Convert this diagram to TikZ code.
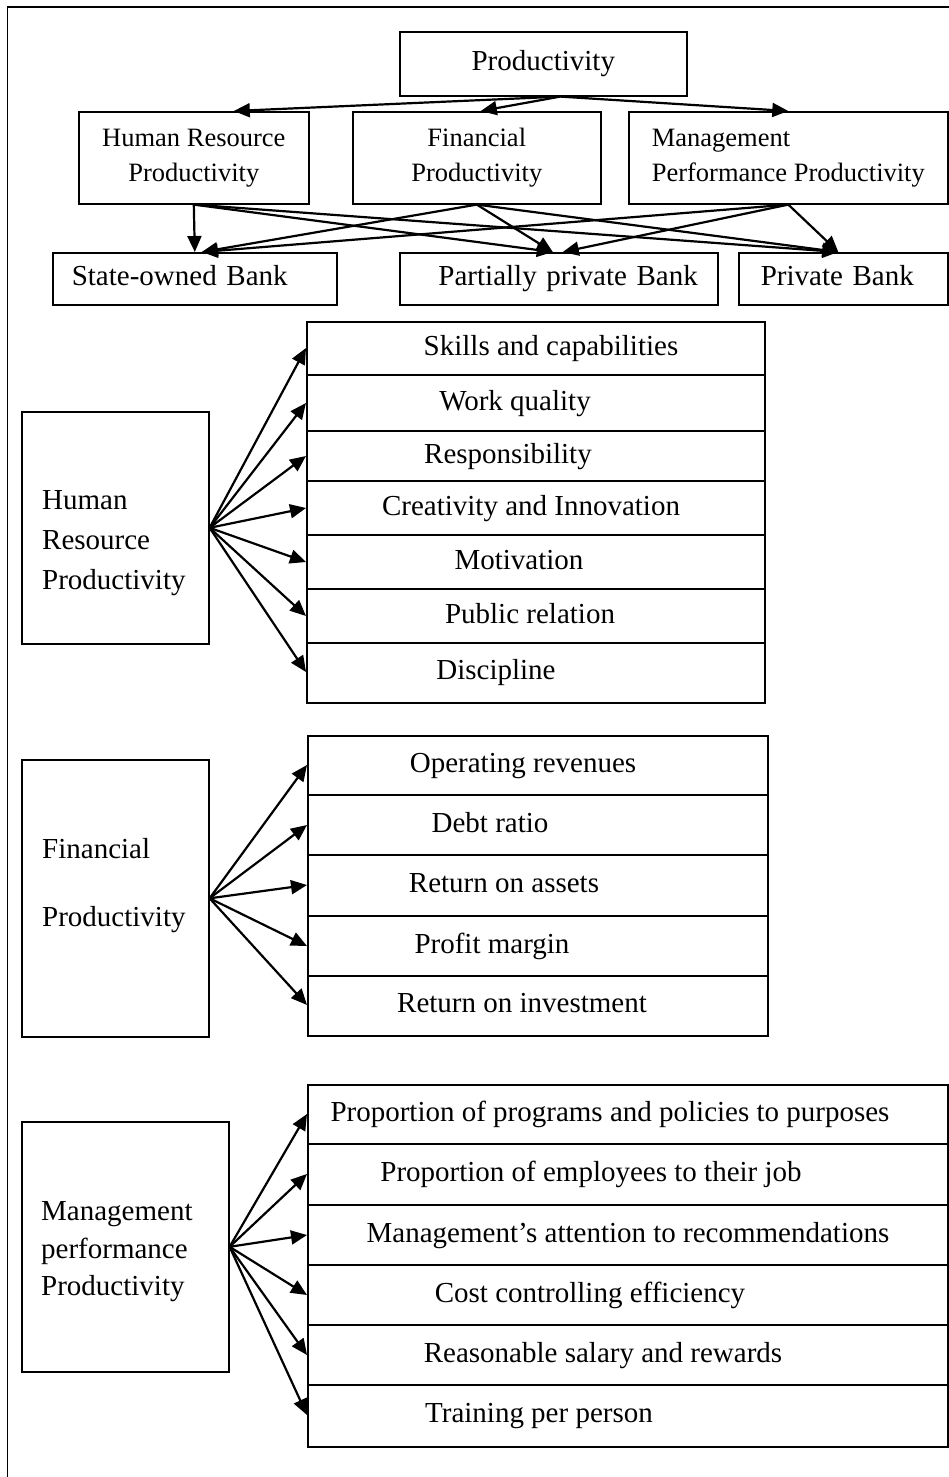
\documentclass[tikz,border=0pt]{standalone}
\usepackage{fontspec}
\setmainfont{Liberation Serif}
\usepackage{tikz}
\usetikzlibrary{arrows.meta,positioning}

\begin{document}
\begin{tikzpicture}[
  x=1pt, y=-1pt,
  box/.style={
    rectangle, draw=black, line width=1.6pt, anchor=north west,
    inner sep=0pt, font=\fontsize{29}{34}\selectfont
  },
  topbox/.style={box, align=center, font=\fontsize{26.5}{35}\selectfont},
  bankbox/.style={box, text height=20pt, text depth=6pt, minimum height=52pt},
  sidelabel/.style={anchor=west, inner sep=0pt, align=left},
  item/.style={inner sep=0pt, text height=20pt, text depth=6pt,
    font=\fontsize{29}{34}\selectfont},
  divider/.style={line width=1.6pt},
  arr/.style={draw=black, line width=2.2pt, -{Triangle[length=16pt,width=14pt]}}
]
  \useasboundingbox (0,0) rectangle (949,1477);
  % outer frame
  \draw[line width=1.5pt] (7.5,1490) -- (7.5,7) -- (960,7);

  % top level
  \node[box, minimum width=287pt, minimum height=64pt] (prod) at (399,31) {Productivity};
  \node[topbox, minimum width=230pt, minimum height=92pt] (hrp) at (78,111)
    {Human Resource\\Productivity};
  \node[topbox, minimum width=248pt, minimum height=92pt] (finp) at (352,111)
    {Financial\\Productivity};
  \node[topbox, align=left, minimum width=319pt, minimum height=92pt] (mgp) at (628,111)
    {Management\\Performance Productivity};

  \node[bankbox, align=left, text width=246pt, inner xsep=19pt, minimum width=284pt]
    (state) at (52,252) {State-owned Bank};
  \node[bankbox, align=right, text width=278pt, inner xsep=20pt, minimum width=318pt]
    (part) at (399,252) {Partially private Bank};
  \node[bankbox, align=left, text width=165pt, inner xsep=22pt, minimum width=209pt]
    (priv) at (738,252) {Private Bank};

  \draw[arr] ([xshift=17pt]prod.south) -- ([xshift=40pt]hrp.north);
  \draw[arr] ([xshift=17pt]prod.south) -- ([xshift=4pt]finp.north);
  \draw[arr] ([xshift=17pt]prod.south) -- (mgp.north);

  \draw[arr] (hrp.south) -- (state.north);
  \draw[arr] (hrp.south) -- ([xshift=-6pt]part.north);
  \draw[arr] (hrp.south) -- ([xshift=-5pt]priv.north);
  \draw[arr] (finp.south) -- ([xshift=7pt]state.north);
  \draw[arr] (finp.south) -- ([xshift=-6pt]part.north);
  \draw[arr] (finp.south) -- ([xshift=-5pt]priv.north);
  \draw[arr] (mgp.south) -- ([xshift=7pt]state.north);
  \draw[arr] (mgp.south) -- ([xshift=4pt]part.north);
  \draw[arr] (mgp.south) -- ([xshift=-5pt]priv.north);

  % human resource productivity
  \node[box, minimum width=187pt, minimum height=232pt] (hrbox) at (21,411) {};
  \node[sidelabel, font=\fontsize{29}{40}\selectfont] (hrlabel) at (42,543)
    {Human\\Resource\\Productivity};
  \node[box, minimum width=458pt, minimum height=381pt] (hrlist) at (306,321) {};
  \foreach \y in {375,431,481,535,589,643}
    \draw[divider] (306,\y) -- (764,\y);
  \foreach \n/\x/\y/\t in {1/551/348/Skills and capabilities, 2/515/403/Work quality,
      3/508/456/Responsibility, 4/531/508/Creativity and Innovation,
      5/519/562/Motivation, 6/530/616/Public relation, 7/496/672/Discipline} {
    \node[item] (hr\n) at (\x,\y) {\t};
    \draw[arr] (hrbox.east) -- (hrlist.west |- hr\n);
  }

  % financial productivity
  \node[box, minimum width=187pt, minimum height=277pt] (finbox) at (21,759) {};
  \node[sidelabel, font=\fontsize{29}{68}\selectfont] (finlabel) at (42,886)
    {Financial\\Productivity};
  \node[box, minimum width=460pt, minimum height=300pt] (finlist) at (307,735) {};
  \foreach \y in {795,855,916,976}
    \draw[divider] (307,\y) -- (767,\y);
  \foreach \n/\x/\y/\t in {1/523/765/Operating revenues, 2/490/825/Debt ratio,
      3/504/885/Return on assets, 4/492/946/Profit margin,
      5/522/1005/Return on investment} {
    \node[item] (fin\n) at (\x,\y) {\t};
    \draw[arr] (finbox.east) -- (finlist.west |- fin\n);
  }

  % management performance productivity
  \node[box, minimum width=207pt, minimum height=250pt] (mgbox) at (21,1121) {};
  \node[sidelabel, font=\fontsize{29}{37.5}\selectfont] (mglabel) at (41,1252)
    {Management\\performance\\Productivity};
  \node[box, minimum width=640pt, minimum height=362pt] (mglist) at (307,1084) {};
  \foreach \y in {1144,1205,1265,1325,1385}
    \draw[divider] (307,\y) -- (947,\y);
  \foreach \n/\x/\y/\t in {1/610/1114/Proportion of programs and policies to purposes,
      2/591/1174/Proportion of employees to their job,
      3/628/1235/Management’s attention to recommendations,
      4/590/1295/Cost controlling efficiency,
      5/603/1355/Reasonable salary and rewards,
      6/539/1415/Training per person} {
    \node[item] (mg\n) at (\x,\y) {\t};
    \draw[arr] (mgbox.east) -- (mglist.west |- mg\n);
  }
\end{tikzpicture}
\end{document}
